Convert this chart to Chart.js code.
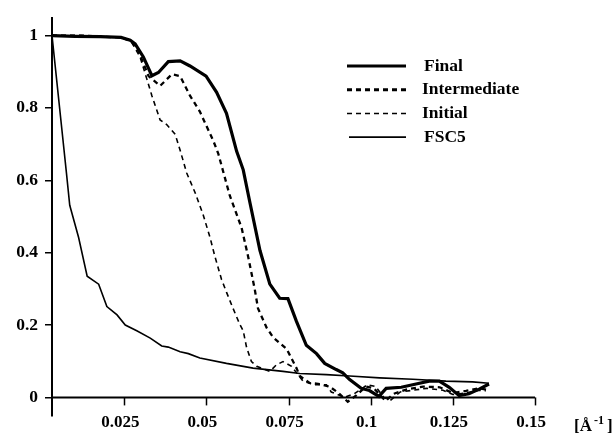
<!DOCTYPE html>
<html>
<head>
<meta charset="utf-8">
<script src="https://cdn.jsdelivr.net/npm/chart.js@4/dist/chart.umd.min.js"></script>
<style>
  html, body { margin: 0; padding: 0; background: #fff; }
  canvas { display: block; }
</style>
</head>
<body>
<canvas id="fsc" width="616" height="433"></canvas>
<script>
// ---- data ----
const xTicks = [0.025, 0.05, 0.075, 0.1, 0.125, 0.15];
const yTicks = [0, 0.2, 0.4, 0.6, 0.8, 1];
const legendNames = ["Final", "Intermediate", "Initial", "FSC5"];

const finalX = [0.003, 0.010, 0.0177, 0.024, 0.0268, 0.0283, 0.0308, 0.0334, 0.0354, 0.0384, 0.042, 0.045, 0.0499, 0.0531, 0.0561, 0.0592, 0.0612, 0.0632, 0.0663, 0.0693, 0.0723, 0.0748, 0.0774, 0.0804, 0.0835, 0.086, 0.0895, 0.0915, 0.0935, 0.0971, 0.0996, 0.1025, 0.1047, 0.1093, 0.1138, 0.1178, 0.1209, 0.1239, 0.1269, 0.1299, 0.133, 0.136];
const finalY = [1, 0.998, 0.997, 0.995, 0.987, 0.977, 0.941, 0.889, 0.898, 0.928, 0.930, 0.916, 0.888, 0.843, 0.785, 0.68, 0.629, 0.54, 0.406, 0.313, 0.274, 0.273, 0.21, 0.144, 0.121, 0.094, 0.077, 0.068, 0.05, 0.025, 0.019, 0.003, 0.025, 0.028, 0.037, 0.045, 0.045, 0.028, 0.005, 0.010, 0.023, 0.037];

const interX = [0.003, 0.012, 0.0177, 0.024, 0.027, 0.0288, 0.0324, 0.0359, 0.0395, 0.042, 0.045, 0.048, 0.0521, 0.0536, 0.0571, 0.0607, 0.0627, 0.0647, 0.0657, 0.0683, 0.0703, 0.0744, 0.0774, 0.0784, 0.0814, 0.0845, 0.0875, 0.0905, 0.093, 0.0955, 0.0985, 0.101, 0.1045, 0.107, 0.111, 0.116, 0.121, 0.125, 0.129, 0.133, 0.136];
const interY = [1, 1, 0.997, 0.995, 0.985, 0.968, 0.888, 0.861, 0.893, 0.888, 0.834, 0.79, 0.709, 0.674, 0.558, 0.469, 0.389, 0.299, 0.246, 0.193, 0.166, 0.134, 0.081, 0.059, 0.04, 0.037, 0.03, 0.01, -0.012, 0.005, 0.03, 0.025, -0.01, 0.01, 0.022, 0.03, 0.028, 0.012, 0.018, 0.025, 0.02];

const initX = [0.003, 0.012, 0.0177, 0.024, 0.027, 0.0298, 0.0319, 0.0334, 0.0359, 0.0379, 0.0405, 0.042, 0.044, 0.0465, 0.049, 0.0511, 0.0526, 0.0546, 0.0561, 0.0581, 0.0602, 0.0612, 0.0622, 0.0637, 0.0653, 0.0693, 0.0713, 0.0733, 0.0759, 0.0794, 0.083, 0.0865, 0.088, 0.092, 0.095, 0.099, 0.1015, 0.104, 0.106, 0.109, 0.113, 0.117, 0.122, 0.125, 0.129, 0.133, 0.135];
const initY = [1, 1, 0.997, 0.995, 0.985, 0.941, 0.879, 0.834, 0.767, 0.754, 0.727, 0.683, 0.62, 0.567, 0.505, 0.442, 0.389, 0.326, 0.291, 0.246, 0.201, 0.184, 0.139, 0.099, 0.086, 0.072, 0.09, 0.099, 0.086, 0.045, 0.035, 0.035, 0.015, 0.0, 0.01, 0.035, 0.03, 0.0, -0.008, 0.015, 0.02, 0.025, 0.02, 0.008, 0.012, 0.02, 0.018];

const fscX = [0.003, 0.0074, 0.0084, 0.0111, 0.0137, 0.0172, 0.0197, 0.0228, 0.0253, 0.0288, 0.0329, 0.0364, 0.0384, 0.042, 0.0445, 0.048, 0.0561, 0.0642, 0.0733, 0.0784, 0.0865, 0.0936, 0.1027, 0.1128, 0.1229, 0.131, 0.136];
const fscY = [1, 0.62, 0.531, 0.442, 0.335, 0.313, 0.251, 0.228, 0.2, 0.184, 0.164, 0.142, 0.139, 0.126, 0.121, 0.109, 0.094, 0.081, 0.072, 0.066, 0.063, 0.059, 0.054, 0.05, 0.045, 0.043, 0.039];

// ---- helpers ----
const pts = (xs, ys) => xs.map((x, i) => ({ x: x, y: ys[i] }));
const SERIF = "'Liberation Serif', 'DejaVu Serif', serif";

// x axis sits at y = 0, with ticks hanging down
const zeroAxis = {
  id: "zeroAxis",
  afterDraw(chart) {
    const ctx = chart.ctx;
    const xs = chart.scales.x, ys = chart.scales.y;
    const y0 = ys.getPixelForValue(0);
    ctx.save();
    ctx.strokeStyle = "#000";
    ctx.lineWidth = 2;
    ctx.beginPath();
    ctx.moveTo(chart.chartArea.left, y0);
    ctx.lineTo(xs.getPixelForValue(0.15), y0);
    ctx.stroke();
    ctx.lineWidth = 1.5;
    xTicks.forEach(v => {
      const px = Math.round(xs.getPixelForValue(v)) + 0.5;
      ctx.beginPath();
      ctx.moveTo(px, y0);
      ctx.lineTo(px, y0 + 8);
      ctx.stroke();
    });
    // unit label
    ctx.fillStyle = "#000";
    ctx.textBaseline = "alphabetic";
    ctx.font = "bold 17px " + SERIF;
    let tx = 574;
    const base = 431;
    ctx.fillText("[\u00C5", tx, base);
    tx += ctx.measureText("[\u00C5").width + 2;
    ctx.font = "bold 12px " + SERIF;
    ctx.fillText("-1", tx, base - 7);
    tx += ctx.measureText("-1").width + 3;
    ctx.font = "bold 17px " + SERIF;
    ctx.fillText("]", tx, base);
    ctx.restore();
  }
};

// legend box in the upper right
const lineLegend = {
  id: "lineLegend",
  afterDraw(chart) {
    const ctx = chart.ctx;
    ctx.save();
    chart.data.datasets.forEach((ds, i) => {
      const y = 66 + i * 23.7;
      ctx.strokeStyle = "#000";
      ctx.lineWidth = ds.legendWidth;
      ctx.setLineDash(ds.borderDash || []);
      ctx.beginPath();
      ctx.moveTo(i === 3 ? 349 : 347, y);
      ctx.lineTo(406, y);
      ctx.stroke();
      ctx.setLineDash([]);
      ctx.fillStyle = "#000";
      ctx.font = "bold 17.5px " + SERIF;
      ctx.textBaseline = "middle";
      ctx.fillText(legendNames[i], i === 0 || i === 3 ? 424 : 422, y);
    });
    ctx.restore();
  }
};

new Chart(document.getElementById("fsc"), {
  type: "line",
  data: {
    datasets: [
      { label: legendNames[0], data: pts(finalX, finalY), borderColor: "#000", borderWidth: 3.2, legendWidth: 3.2 },
      { label: legendNames[1], data: pts(interX, interY), borderColor: "#000", borderWidth: 2.3, borderDash: [5, 4], legendWidth: 3 },
      { label: legendNames[2], data: pts(initX, initY), borderColor: "#000", borderWidth: 1.6, borderDash: [5, 4], legendWidth: 1.5 },
      { label: legendNames[3], data: pts(fscX, fscY), borderColor: "#000", borderWidth: 1.6, legendWidth: 1.7 }
    ]
  },
  options: {
    responsive: false,
    animation: false,
    devicePixelRatio: 1,
    elements: { point: { radius: 0 }, line: { tension: 0, borderCapStyle: "butt" } },
    layout: { padding: { top: 9, right: 81, left: 0, bottom: 0 } },
    plugins: { legend: { display: false }, tooltip: { enabled: false } },
    scales: {
      x: {
        type: "linear",
        min: 0.003,
        max: 0.15,
        border: { display: false },
        grid: { display: false, drawTicks: false },
        afterBuildTicks: s => { s.ticks = xTicks.map(v => ({ value: v })); },
        afterFit: s => { s.height = 12; },
        ticks: {
          autoSkip: false,
          maxRotation: 0,
          padding: -3,
          labelOffset: -4,
          color: "#000",
          font: { family: SERIF, size: 17, weight: "bold" },
          callback: v => String(v)
        }
      },
      y: {
        min: -0.05,
        max: 1.05,
        border: { display: true, color: "#000", width: 2 },
        grid: { drawOnChartArea: false, drawTicks: true, tickLength: 7, color: "#000", lineWidth: 1.5 },
        afterBuildTicks: s => { s.ticks = yTicks.map(v => ({ value: v })); },
        afterFit: s => { s.width = 52; },
        ticks: {
          padding: 7,
          color: "#000",
          font: { family: SERIF, size: 17.5, weight: "bold" },
          callback: v => String(v)
        }
      }
    }
  },
  plugins: [zeroAxis, lineLegend]
});
</script>
</body>
</html>
